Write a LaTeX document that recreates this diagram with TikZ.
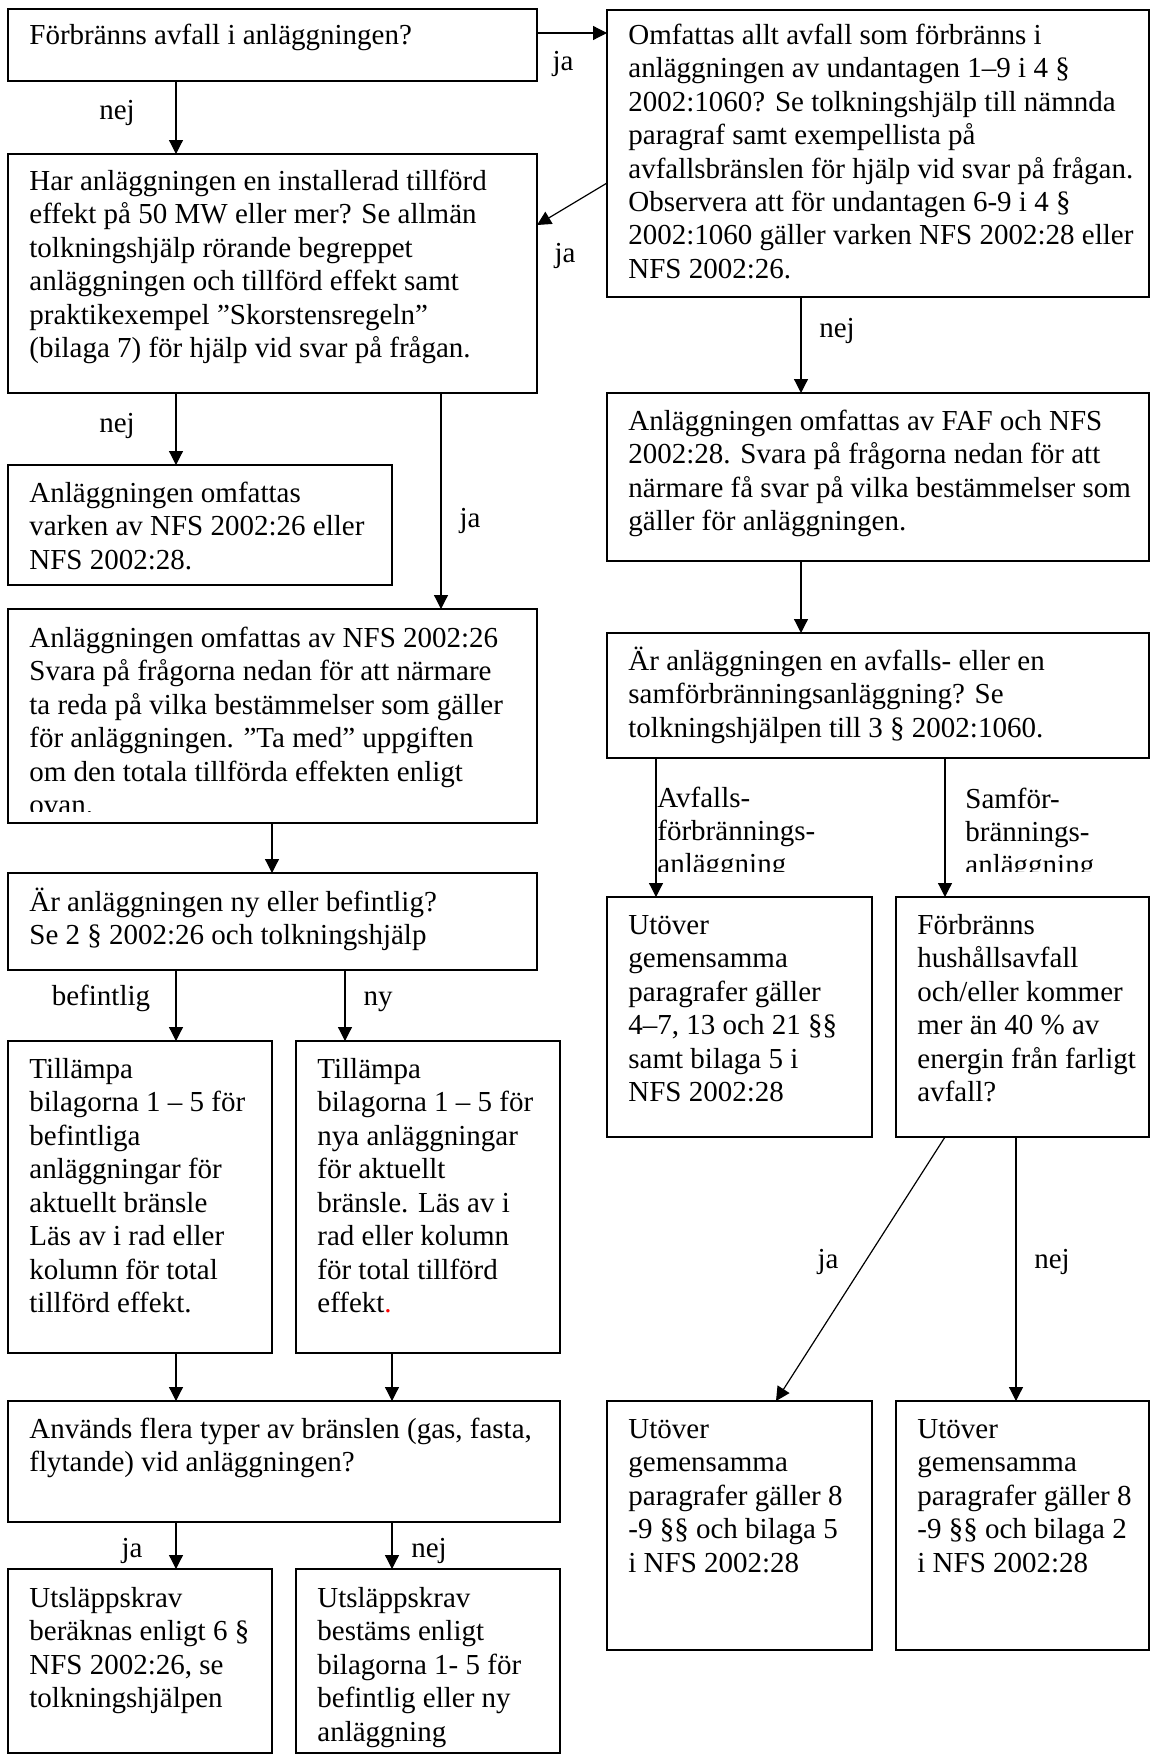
\documentclass[tikz,border=0pt]{standalone}
\usepackage{fontspec}
\setmainfont{Liberation Serif}
\usetikzlibrary{arrows.meta}
\newcommand\tx[1]{\begin{tabular}[t]{@{}l@{}}#1\end{tabular}}
\tikzset{
  box/.style={draw, rectangle, anchor=north west, inner sep=0pt, outer sep=0pt, line width=0.7pt},
  txt/.style={anchor=base west, inner sep=0pt, font=\fontsize{14.5}{16.75}\selectfont},
  lbl/.style={anchor=base, inner sep=0pt, font=\fontsize{14.5}{16.75}\selectfont},
  lbw/.style={anchor=base west, inner sep=0pt, font=\fontsize{14.5}{16.5}\selectfont},
  arr/.style={line width=0.6pt, -{Triangle[length=7pt,width=7pt]}},
}
% {name}{x1}{y1}{x2}{y2}{first baseline y}{text}
\newcommand\bx[7]{%
  \node[box, minimum width={(#4-#2)*0.5pt}, minimum height={(#5-#3)*0.5pt}] (#1) at (#2,#3) {};
  \node[txt] (#1t) at ({#2+21},#6) {\tx{#7}};}
\newcommand\bxe[5]{%
  \node[box, minimum width={(#4-#2)*0.5pt}, minimum height={(#5-#3)*0.5pt}] (#1) at (#2,#3) {};}
\begin{document}
\begin{tikzpicture}[x=0.5pt,y=-0.5pt]
\useasboundingbox[fill=white] (0,0) rectangle (1152,1756);

% left column
\bx{b1}{8}{9}{537}{81}{44}{Förbränns avfall i anläggningen?}
\bx{b2}{8}{154}{537}{393}{190}{Har anläggningen en installerad tillförd\\
effekt på 50 MW eller mer? Se allmän\\
tolkningshjälp rörande begreppet\\
anläggningen och tillförd effekt samt\\
praktikexempel ”Skorstensregeln"\\
(bilaga 7) för hjälp vid svar på frågan.}
\bx{l3}{8}{465}{392}{585}{502}{Anläggningen omfattas\\
varken av NFS 2002:26 eller\\
NFS 2002:28.}
\bxe{l4}{8}{609}{537}{823}
\begin{scope}
\clip (8,609) rectangle (537,811);
\node[txt] (l4t) at (29,647) {\tx{Anläggningen omfattas av NFS 2002:26\\
Svara på frågorna nedan för att närmare\\
ta reda på vilka bestämmelser som gäller\\
för anläggningen. ”Ta med” uppgiften\\
om den totala tillförda effekten enligt\\
ovan.}};
\end{scope}
\bx{l5}{8}{873}{537}{970}{911}{Är anläggningen ny eller befintlig?\\
Se 2 § 2002:26 och tolkningshjälp}
\bx{l6}{8}{1041}{272}{1353}{1078}{Tillämpa\\
bilagorna 1 – 5 för\\
befintliga\\
anläggningar för\\
aktuellt bränsle\\
Läs av i rad eller\\
kolumn för total\\
tillförd effekt.}
\bx{l7}{296}{1041}{560}{1353}{1078}{Tillämpa\\
bilagorna 1 – 5 för\\
nya anläggningar\\
för aktuellt\\
bränsle. Läs av i\\
rad eller kolumn\\
för total tillförd\\
effekt\textcolor{red}{.}}
\bx{l8}{8}{1401}{560}{1522}{1438}{Används flera typer av bränslen (gas, fasta,\\
flytande) vid anläggningen?}
\bx{l9}{8}{1569}{272}{1753}{1607}{Utsläppskrav\\
beräknas enligt 6 §\\
NFS 2002:26, se\\
tolkningshjälpen}
\bx{l10}{296}{1569}{560}{1753}{1607}{Utsläppskrav\\
bestäms enligt\\
bilagorna 1- 5 för\\
befintlig eller ny\\
anläggning}

% right column
\bx{ra}{607}{10}{1149}{297}{44}{Omfattas allt avfall som förbränns i\\
anläggningen av undantagen 1–9 i 4 §\\
2002:1060? Se tolkningshjälp till nämnda\\
paragraf samt exempellista på\\
avfallsbränslen för hjälp vid svar på frågan.\\
Observera att för undantagen 6-9 i 4 §\\
2002:1060 gäller varken NFS 2002:28 eller\\
NFS 2002:26.}
\bx{r2}{607}{393}{1149}{561}{430}{Anläggningen omfattas av FAF och NFS\\
2002:28. Svara på frågorna nedan för att\\
närmare få svar på vilka bestämmelser som\\
gäller för anläggningen.}
\bx{r3}{607}{633}{1149}{758}{670}{Är anläggningen en avfalls- eller en\\
samförbränningsanläggning? Se\\
tolkningshjälpen till 3 § 2002:1060.}
\bx{r4}{607}{897}{872}{1137}{934}{Utöver\\
gemensamma\\
paragrafer gäller\\
4–7, 13 och 21 §§\\
samt bilaga 5 i\\
NFS 2002:28}
\bx{r5}{896}{897}{1149}{1137}{934}{Förbränns\\
hushållsavfall\\
och/eller kommer\\
mer än 40 \% av\\
energin från farligt\\
avfall?}
\bx{r6}{607}{1401}{872}{1650}{1438}{Utöver\\
gemensamma\\
paragrafer gäller 8\\
-9 §§ och bilaga 5\\
i NFS 2002:28}
\bx{r7}{896}{1401}{1149}{1650}{1438}{Utöver\\
gemensamma\\
paragrafer gäller 8\\
-9 §§ och bilaga 2\\
i NFS 2002:28}

% connector positions
\coordinate (xa) at (176,0);
\coordinate (xb) at (441,0);
\coordinate (xc) at (272,0);
\coordinate (xd) at (345,0);
\coordinate (xe) at (392,0);
\coordinate (xf) at (801,0);
\coordinate (xg) at (656,0);
\coordinate (xh) at (945,0);
\coordinate (xi) at (1016,0);
\coordinate (xj) at (776,0);
\coordinate (ya) at (0,33);
\coordinate (yb) at (0,183);
\coordinate (yc) at (0,225);

\draw[arr] (b1.east |- ya) -- (ra.west |- ya);
\draw[arr] (b1.south -| xa) -- (b2.north -| xa);
\draw[arr] (ra.west |- yb) -- (b2.east |- yc);
\draw[arr] (ra.south -| xf) -- (r2.north -| xf);
\draw[arr] (b2.south -| xa) -- (l3.north -| xa);
\draw[arr] (b2.south -| xb) -- (l4.north -| xb);
\draw[arr] (r2.south -| xf) -- (r3.north -| xf);
\draw[arr] (l4.south -| xc) -- (l5.north -| xc);
\draw[arr] (r3.south -| xg) -- (r4.north -| xg);
\draw[arr] (r3.south -| xh) -- (r5.north -| xh);
\draw[arr] (l5.south -| xa) -- (l6.north -| xa);
\draw[arr] (l5.south -| xd) -- (l7.north -| xd);
\draw[arr] (r5.south -| xh) -- (r6.north -| xj);
\draw[arr] (r5.south -| xi) -- (r7.north -| xi);
\draw[arr] (l6.south -| xa) -- (l8.north -| xa);
\draw[arr] (l7.south -| xe) -- (l8.north -| xe);
\draw[arr] (l8.south -| xa) -- (l9.north -| xa);
\draw[arr] (l8.south -| xe) -- (l10.north -| xe);

% labels
\node[lbl] (la1) at (563,70) {ja};
\node[lbl] (la2) at (117,119) {nej};
\node[lbl] (la3) at (565,262) {ja};
\node[lbl] (la4) at (837,337) {nej};
\node[lbl] (la5) at (117,432) {nej};
\node[lbl] (la6) at (470,527) {ja};
\node[lbl] (la7) at (101,1005) {befintlig};
\node[lbl] (la8) at (378,1005) {ny};
\node[lbl] (la9) at (132,1557) {ja};
\node[lbl] (la10) at (429,1557) {nej};
\node[lbl] (la11) at (828,1268) {ja};
\node[lbl] (la12) at (1052,1268) {nej};
\begin{scope}
\clip (640,770) rectangle (1149,871);
\node[lbw] (la13) at (657,807) {\tx{Avfalls-\\förbrännings-\\anläggning}};
\node[lbw] (la14) at (965,808) {\tx{Samför-\\brännings-\\anläggning}};
\end{scope}
\end{tikzpicture}
\end{document}
